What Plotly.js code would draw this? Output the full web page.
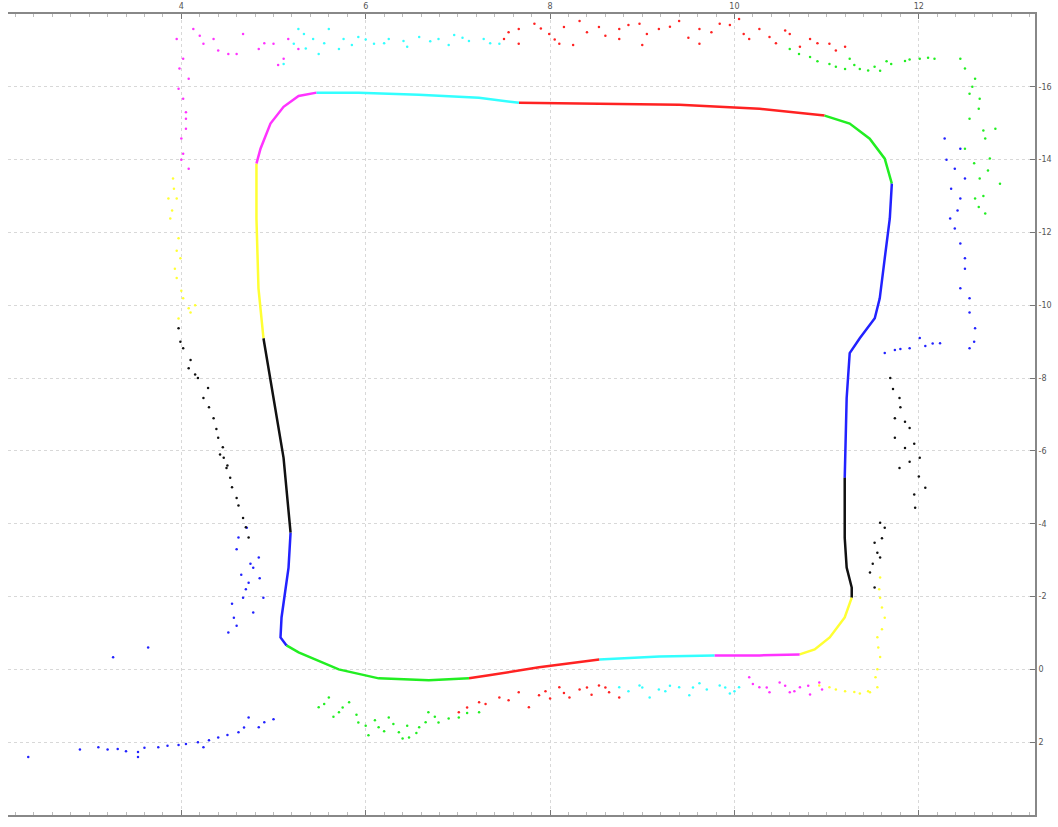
<!DOCTYPE html>
<html>
<head>
<meta charset="utf-8">
<script src="https://cdn.plot.ly/plotly-3.0.1.min.js"></script>
<style>html,body{margin:0;padding:0;background:#fff;}#chart{width:1058px;height:827px;}</style>
</head>
<body>
<div id="chart"></div>
<script>
// ---- Trajectory (loop) segments, colour cycle m c r g b k y ----
const pathMagentaTL_x = [4.815, 4.859, 4.967, 5.109, 5.272, 5.467];
const pathMagentaTL_y = [-13.89, -14.30, -14.99, -15.45, -15.75, -15.84];
const pathCyanTop_x = [5.467, 5.924, 6.576, 7.228, 7.663];
const pathCyanTop_y = [-15.84, -15.84, -15.78, -15.70, -15.56];
const pathRedTop_x = [7.663, 8.533, 9.402, 10.272, 10.707, 10.978];
const pathRedTop_y = [-15.56, -15.534, -15.507, -15.40, -15.29, -15.21];
const pathGreenTR_x = [10.978, 11.250, 11.467, 11.630, 11.707];
const pathGreenTR_y = [-15.21, -14.99, -14.575, -14.027, -13.343];
const pathBlueRight_x = [11.707, 11.685, 11.63, 11.576, 11.522, 11.359, 11.250, 11.217, 11.196];
const pathBlueRight_y = [-13.343, -12.384, -11.288, -10.192, -9.644, -9.096, -8.685, -7.452, -5.26];
const pathBlackRight_x = [11.196, 11.196, 11.217, 11.272, 11.272];
const pathBlackRight_y = [-5.26, -3.616, -2.795, -2.247, -1.97];
const pathYellowBR_x = [11.272, 11.196, 11.033, 10.87, 10.707];
const pathYellowBR_y = [-1.97, -1.425, -0.877, -0.548, -0.411];
const pathMagentaBot_x = [10.707, 10.272, 9.783];
const pathMagentaBot_y = [-0.411, -0.384, -0.384];
const pathCyanBot_x = [9.783, 9.185, 8.533];
const pathCyanBot_y = [-0.384, -0.356, -0.274];
const pathRedBot_x = [8.533, 7.88, 7.337, 7.12];
const pathRedBot_y = [-0.274, -0.055, 0.164, 0.247];
const pathGreenBL_x = [7.12, 6.685, 6.141, 5.707, 5.272, 5.141];
const pathGreenBL_y = [0.247, 0.301, 0.247, 0.0, -0.466, -0.658];
const pathBlueLeft_x = [5.141, 5.076, 5.087, 5.163, 5.185];
const pathBlueLeft_y = [-0.658, -0.877, -1.425, -2.795, -3.753];
const pathBlackLeft_x = [5.185, 5.109, 5.0, 4.891];
const pathBlackLeft_y = [-3.753, -5.808, -7.452, -9.096];
const pathYellowLeft_x = [4.891, 4.837, 4.815, 4.815];
const pathYellowLeft_y = [-9.096, -10.466, -12.384, -13.89];

// ---- Scan points ----
const ptsMagenta_x = [4.13,4.24,4.35,4.51,4.67,4.84,5.00,5.11,5.16,5.27,4.08,4.02,4.05,4.00,4.02,3.97,4.05,4.02,4.08,3.95,
                      4.20,4.40,4.60,4.90,5.05,3.98,4.05,4.00,
                      10.27,10.49,10.71,10.92,10.82,10.60,10.38,10.16,
                      10.20,10.35,10.55,10.65,10.80,10.95];
const ptsMagenta_y = [-17.59,-17.18,-17.31,-16.90,-17.45,-17.04,-17.18,-16.77,-17.31,-17.04,-16.22,-15.67,-15.12,-14.58,-14.16,-15.95,-14.85,-16.77,-13.75,-17.31,
                      -17.40,-17.00,-16.90,-17.20,-16.60,-16.50,-15.30,-14.00,
                      0.49,0.36,0.49,0.36,0.69,0.63,0.63,0.22,
                      0.40,0.50,0.45,0.60,0.45,0.55];
const ptsCyan_x = [5.22,5.33,5.43,5.60,5.76,5.92,6.09,6.25,6.41,6.58,6.79,6.96,7.12,7.28,7.45,5.49,5.71,5.11,5.27,
                   5.35,5.55,5.85,6.00,6.20,6.45,6.70,6.90,7.05,7.35,
                   8.75,8.97,9.18,9.40,9.62,9.84,10.05,9.08,9.51,9.95,
                   8.85,9.00,9.25,9.30,9.55,9.70,9.90,10.00];
const ptsCyan_y = [-17.18,-17.45,-17.31,-17.59,-17.31,-17.37,-17.18,-17.31,-17.26,-17.37,-17.31,-17.42,-17.26,-17.31,-17.18,-16.90,-17.04,-16.63,-17.59,
                   -17.05,-17.20,-17.15,-17.30,-17.20,-17.10,-17.25,-17.15,-17.35,-17.20,
                   0.49,0.44,0.55,0.49,0.38,0.44,0.49,0.77,0.71,0.66,
                   0.60,0.50,0.60,0.45,0.50,0.55,0.50,0.60];
const ptsRed_x = [7.50,7.66,7.83,7.99,8.15,8.32,8.53,8.75,8.97,9.18,9.40,9.62,9.84,10.05,10.27,10.38,10.60,10.82,11.03,11.20,7.66,8.10,8.75,9.62,10.16,10.71,
                  7.55,7.90,8.05,8.40,8.60,8.85,9.05,9.30,9.50,9.75,9.95,10.10,10.45,10.55,10.90,11.10,8.25,9.00,
                  7.23,7.45,7.66,7.88,8.10,8.32,8.53,8.64,8.75,7.77,8.21,7.01,
                  7.30,7.55,7.95,8.00,8.15,8.40,8.45,8.60,7.10];
const ptsRed_y = [-17.31,-17.59,-17.73,-17.45,-17.64,-17.81,-17.64,-17.59,-17.73,-17.59,-17.81,-17.59,-17.73,-17.86,-17.59,-17.37,-17.45,-17.31,-17.18,-17.10,-17.18,-17.18,-17.31,-17.18,-17.31,-17.10,
                  -17.50,-17.60,-17.30,-17.50,-17.40,-17.70,-17.45,-17.65,-17.35,-17.50,-17.70,-17.45,-17.20,-17.55,-17.20,-17.00,-17.15,-17.15,
                  0.90,0.77,0.63,0.71,0.49,0.55,0.44,0.63,0.77,1.04,0.77,1.18,
                  0.95,0.85,0.60,0.80,0.65,0.50,0.70,0.50,1.05];
const ptsGreen_x = [10.60,10.82,11.03,11.20,11.36,11.52,11.70,11.85,12.01,12.17,11.58,11.25,
                    10.70,10.90,11.10,11.30,11.45,11.65,11.90,12.10,
                    12.45,12.61,12.66,12.55,12.72,12.77,12.66,12.88,12.61,12.72,12.55,12.50,12.83,
                    12.50,12.58,12.65,12.70,12.60,12.75,12.70,12.65,
                    5.49,5.71,5.92,6.14,6.36,6.58,6.79,7.01,7.23,5.82,6.25,6.47,5.60,6.03,6.68,
                    5.55,5.65,5.75,5.90,6.00,6.10,6.20,6.30,6.45,6.55,6.65,6.75,6.90,7.10,6.40];
const ptsGreen_y = [-17.04,-16.82,-16.63,-16.49,-16.49,-16.55,-16.63,-16.71,-16.77,-16.77,-16.44,-16.77,
                    -16.90,-16.70,-16.55,-16.60,-16.45,-16.70,-16.75,-16.80,
                    -16.77,-16.22,-15.67,-15.12,-14.58,-14.03,-13.48,-13.34,-12.93,-12.52,-15.81,-14.30,-14.85,
                    -16.50,-16.00,-15.40,-14.80,-13.90,-13.70,-13.00,-12.70,
                    1.04,1.18,1.46,1.59,1.73,1.59,1.46,1.32,1.18,0.90,1.32,1.87,0.77,1.81,1.18,
                    0.95,1.30,1.05,1.25,1.55,1.40,1.70,1.50,1.55,1.75,1.45,1.30,1.35,1.20,1.90];
const ptsBlue_x = [12.28,12.39,12.45,12.39,12.50,12.45,12.55,12.61,12.55,12.34,12.45,12.50,12.23,12.07,11.90,11.74,11.63,12.01,
                   12.30,12.35,12.42,12.45,12.50,12.55,12.60,11.80,12.15,
                   3.10,3.31,3.53,3.75,3.97,4.18,4.40,4.62,4.84,5.00,4.24,4.73,3.53,2.34,3.26,3.64,
                   3.20,3.40,3.60,3.85,4.05,4.30,4.50,4.68,4.90,2.90,
                   4.57,4.67,4.73,4.78,4.84,4.89,4.62,4.71,4.51,4.78,
                   4.60,4.65,4.70,4.55,4.60,4.75,4.85];
const ptsBlue_y = [-14.58,-13.75,-12.93,-12.11,-11.29,-10.47,-10.19,-9.37,-8.82,-12.38,-14.30,-13.48,-8.96,-8.88,-8.82,-8.77,-8.69,-9.10,
                   -14.00,-13.20,-12.60,-11.70,-11.00,-9.80,-9.00,-8.80,-8.95,
                   2.14,2.19,2.27,2.14,2.08,2.00,1.87,1.73,1.59,1.37,2.14,1.32,2.41,2.41,-0.33,-0.60,
                   2.20,2.25,2.15,2.10,2.05,1.95,1.80,1.60,1.45,2.20,
                   -1.42,-1.97,-2.38,-2.79,-3.07,-1.97,-3.62,-3.89,-1.01,-1.56,
                   -3.30,-2.60,-2.20,-1.80,-1.20,-2.90,-2.50];
const ptsBlack_x = [11.69,11.79,11.74,11.90,11.85,12.01,11.79,12.07,11.96,11.74,11.58,11.52,11.58,11.47,11.52,11.63,
                    11.72,11.80,11.85,11.95,11.90,12.00,11.95,11.60,11.55,11.50,
                    3.97,4.02,4.08,4.18,4.24,4.35,4.40,4.46,4.53,4.60,4.67,4.73,4.29,4.49,
                    3.99,4.10,4.15,4.30,4.38,4.45,4.50,4.55,4.62,4.70,4.42];
const ptsBlack_y = [-8.00,-7.45,-6.90,-6.63,-6.08,-5.81,-5.53,-4.99,-4.44,-6.36,-4.03,-3.48,-3.07,-2.66,-2.25,-3.89,
                    -7.70,-7.20,-6.80,-6.20,-5.70,-5.30,-4.80,-3.60,-3.20,-2.90,
                    -9.37,-8.82,-8.27,-8.00,-7.45,-6.90,-6.36,-5.81,-5.26,-4.71,-4.16,-3.62,-7.73,-5.53,
                    -9.00,-8.50,-8.10,-7.20,-6.60,-6.10,-5.60,-5.00,-4.50,-3.90,-5.90];
const ptsYellow_x = [11.58,11.63,11.55,11.58,11.53,11.55,11.47,11.36,11.20,11.03,10.92,11.58,11.60,
                     11.57,11.60,11.56,11.55,11.45,11.30,11.10,
                     3.91,3.95,3.88,3.97,3.99,3.95,4.02,3.97,4.08,3.86,
                     3.92,3.90,3.95,3.93,4.00,4.10,4.15];
const ptsYellow_y = [-1.97,-1.42,-0.88,-0.34,0.22,0.49,0.63,0.66,0.60,0.49,0.44,-2.52,-1.70,
                     -2.20,-1.10,-0.60,0.00,0.60,0.62,0.55,
                     -13.48,-12.93,-12.38,-11.84,-11.29,-10.75,-10.19,-9.64,-9.92,-12.93,
                     -13.20,-12.60,-11.50,-11.00,-10.40,-9.80,-10.00];

// ---- Axis ticks ----
const xTickVals = [4, 6, 8, 10, 12];
const yTickVals = [-16, -14, -12, -10, -8, -6, -4, -2, 0, 2];

const COL = {m:'#ff33ff', c:'#33ffff', r:'#ff2222', g:'#22ee22', b:'#2222ff', k:'#111111', y:'#ffff33'};

function line(x, y, c) {
  return {x:x, y:y, type:'scatter', mode:'lines', line:{color:c, width:2.5}, hoverinfo:'skip', showlegend:false};
}
function pts(x, y, c) {
  return {x:x, y:y, type:'scatter', mode:'markers', marker:{color:c, size:2.5}, hoverinfo:'skip', showlegend:false};
}

const data = [
  pts(ptsMagenta_x, ptsMagenta_y, COL.m),
  pts(ptsCyan_x, ptsCyan_y, COL.c),
  pts(ptsRed_x, ptsRed_y, COL.r),
  pts(ptsGreen_x, ptsGreen_y, COL.g),
  pts(ptsBlue_x, ptsBlue_y, COL.b),
  pts(ptsBlack_x, ptsBlack_y, COL.k),
  pts(ptsYellow_x, ptsYellow_y, COL.y),
  line(pathMagentaTL_x, pathMagentaTL_y, COL.m),
  line(pathCyanTop_x, pathCyanTop_y, COL.c),
  line(pathRedTop_x, pathRedTop_y, COL.r),
  line(pathGreenTR_x, pathGreenTR_y, COL.g),
  line(pathBlueRight_x, pathBlueRight_y, COL.b),
  line(pathBlackRight_x, pathBlackRight_y, COL.k),
  line(pathYellowBR_x, pathYellowBR_y, COL.y),
  line(pathMagentaBot_x, pathMagentaBot_y, COL.m),
  line(pathCyanBot_x, pathCyanBot_y, COL.c),
  line(pathRedBot_x, pathRedBot_y, COL.r),
  line(pathGreenBL_x, pathGreenBL_y, COL.g),
  line(pathBlueLeft_x, pathBlueLeft_y, COL.b),
  line(pathBlackLeft_x, pathBlackLeft_y, COL.k),
  line(pathYellowLeft_x, pathYellowLeft_y, COL.y)
];

const layout = {
  width: 1058, height: 827,
  margin: {l: 8, r: 23, t: 14, b: 12},
  paper_bgcolor: '#ffffff', plot_bgcolor: '#ffffff',
  showlegend: false,
  font: {family: 'DejaVu Sans, sans-serif', size: 8, color: '#555'},
  xaxis: {
    side: 'top', range: [2.12, 13.26], tickvals: xTickVals, ticktext: xTickVals.map(String),
    showgrid: true, gridcolor: '#d8d8d8', griddash: 'dot', gridwidth: 1,
    zeroline: false, showline: true, linecolor: '#888', linewidth: 2, mirror: 'ticks',
    ticks: 'inside', ticklen: 5, tickcolor: '#777',
    minor: {dtick: 0.2, ticks: 'inside', ticklen: 3, tickcolor: '#bbb', showgrid: false}
  },
  yaxis: {
    side: 'right', range: [4, -18], tickvals: yTickVals, ticktext: yTickVals.map(String),
    showgrid: true, gridcolor: '#d8d8d8', griddash: 'dot', gridwidth: 1,
    zeroline: false, showline: true, linecolor: '#888', linewidth: 2, mirror: false,
    ticks: 'inside', ticklen: 5, tickcolor: '#777'
  }
};

Plotly.newPlot('chart', data, layout, {displayModeBar: false, staticPlot: true});
</script>
</body>
</html>
